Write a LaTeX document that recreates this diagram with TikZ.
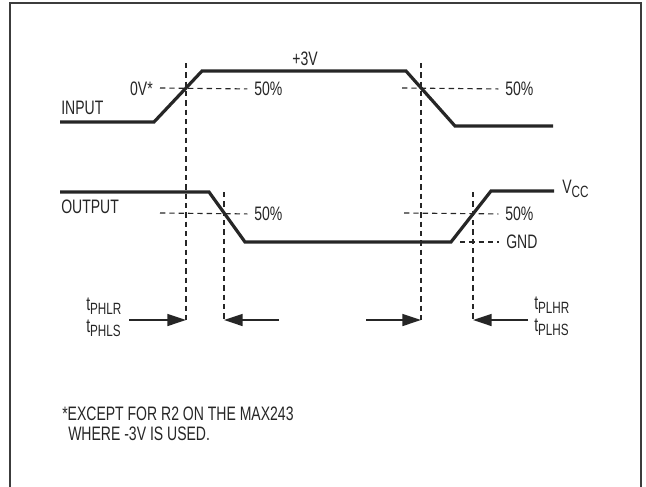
\documentclass[tikz,border=0pt]{standalone}
\usepackage{fontspec}
\setmainfont{Liberation Sans}[FakeStretch=0.72]
\usetikzlibrary{arrows.meta}
\definecolor{ink}{HTML}{262626}
\newcommand{\sbs}[1]{\raisebox{-0.2em}{\fontsize{12.2pt}{14pt}\selectfont #1}}
\begin{document}
\begin{tikzpicture}[x=0.75pt,y=-0.75pt,
  wave/.style={line width=2.4pt,ink,line join=miter},
  guide/.style={line width=0.85pt,ink,dash pattern=on 4pt off 3pt},
  lbl/.style={font=\fontsize{14.6pt}{16pt}\selectfont,text=ink,inner sep=0pt},
  tarrow/.style={line width=1.2pt,ink,-{Triangle[length=14pt,width=9pt]}}]
\useasboundingbox (0,0) rectangle (646,486);
\draw[line width=1.6pt,ink!90] (10,487) -- (10,3) -- (641,3) -- (641,487);
% input waveform
\coordinate (i0) at (60,122);
\coordinate (i1) at (154,122);
\coordinate (i2) at (202,71);
\coordinate (i3) at (406,71);
\coordinate (i4) at (455,126);
\coordinate (i5) at (553,126);
\draw[wave] (i0) -- (i1) -- (i2) -- (i3) -- (i4) -- (i5);
% output waveform
\coordinate (o0) at (60,192);
\coordinate (o1) at (209,192);
\coordinate (o2) at (245,242);
\coordinate (o3) at (451,242);
\coordinate (o4) at (491,191);
\coordinate (o5) at (554,191);
\draw[wave] (o0) -- (o1) -- (o2) -- (o3) -- (o4) -- (o5);
% labels
\node[lbl,anchor=west] (inp) at (61,108) {INPUT};
\node[lbl,anchor=west] (outp) at (61,207) {OUTPUT};
\node[lbl] (p3v) at (305,59) {+3V};
\node[lbl,anchor=east] (zv) at (153,89) {0V*};
\node[lbl,anchor=west] (f1) at (254,89) {50\%};
\node[lbl,anchor=west] (f2) at (505,89) {50\%};
\node[lbl,anchor=west] (f3) at (254,214) {50\%};
\node[lbl,anchor=west] (f4) at (505,214) {50\%};
\node[lbl,anchor=west] (gnd) at (506,242) {GND};
\node[lbl,anchor=west] (vcc) at (562,189) {V\sbs{CC}};
% horizontal guides
\draw[guide,shorten >=5pt] (160,88) -- (f1.west);
\draw[guide,shorten >=5pt] (402,88) -- (f2.west);
\draw[guide,shorten >=5pt] (160,213) -- (f3.west);
\draw[guide,shorten >=5pt] (404,213) -- (f4.west);
\draw[guide,shorten >=5pt] (460,242) -- (gnd.west);
% vertical guides
\coordinate (v1t) at (186,63); \coordinate (v1b) at (186,322);
\coordinate (v2t) at (224,192); \coordinate (v2b) at (224,320);
\coordinate (v3t) at (421,63); \coordinate (v3b) at (421,322);
\coordinate (v4t) at (473,192); \coordinate (v4b) at (473,320);
\draw[guide] (v1t) -- (v1b);
\draw[guide] (v2t) -- (v2b);
\draw[guide] (v3t) -- (v3b);
\draw[guide] (v4t) -- (v4b);
% timing arrows
\coordinate (a1) at (129,320); \coordinate (a1t) at (186,320);
\coordinate (a2) at (279,320); \coordinate (a2t) at (224,320);
\coordinate (a3) at (366,320); \coordinate (a3t) at (421,320);
\coordinate (a4) at (528,320); \coordinate (a4t) at (473,320);
\draw[tarrow] (a1) -- (a1t);
\draw[tarrow] (a2) -- (a2t);
\draw[tarrow] (a3) -- (a3t);
\draw[tarrow] (a4) -- (a4t);
\node[lbl,anchor=west] (tl1) at (86,306) {t\sbs{PHLR}};
\node[lbl,anchor=west] (tl2) at (86,328) {t\sbs{PHLS}};
\node[lbl,anchor=west] (tr1) at (534,305) {t\sbs{PLHR}};
\node[lbl,anchor=west] (tr2) at (534,327) {t\sbs{PLHS}};
% footnote
\node[lbl,anchor=west] (n1) at (62,414) {*EXCEPT FOR R2 ON THE MAX243};
\node[lbl,anchor=west] (n2) at (68,434) {WHERE -3V IS USED.};
\end{tikzpicture}
\end{document}
